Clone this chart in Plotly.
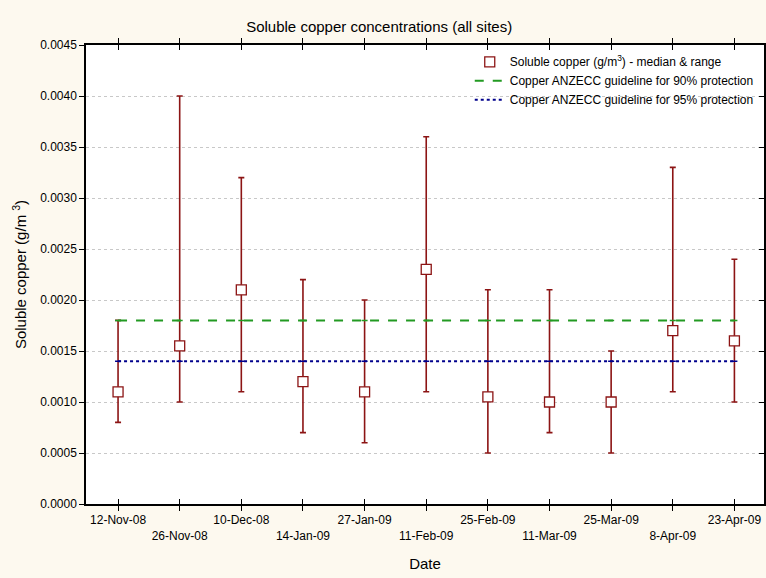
import plotly.graph_objects as go

dates = ["12-Nov-08", "26-Nov-08", "10-Dec-08", "14-Jan-09", "27-Jan-09", "11-Feb-09",
         "25-Feb-09", "11-Mar-09", "25-Mar-09", "8-Apr-09", "23-Apr-09"]
median = [0.0011, 0.00155, 0.0021, 0.0012, 0.0011, 0.0023, 0.00105, 0.0010, 0.0010, 0.0017, 0.0016]
vmin = [0.0008, 0.0010, 0.0011, 0.0007, 0.0006, 0.0011, 0.0005, 0.0007, 0.0005, 0.0011, 0.0010]
vmax = [0.0018, 0.0040, 0.0032, 0.0022, 0.0020, 0.0036, 0.0021, 0.0021, 0.0015, 0.0033, 0.0024]
guide90 = 0.0018
guide95 = 0.0014
ytickvals = [0.0, 0.0005, 0.0010, 0.0015, 0.0020, 0.0025, 0.0030, 0.0035, 0.0040, 0.0045]

xs = list(range(len(dates)))
ticktext = [d if i % 2 == 0 else "<br>" + d for i, d in enumerate(dates)]

RED = "#8c1414"
GREEN = "#229a22"
BLUE = "#00008c"
FONT = "Liberation Sans, Arial, sans-serif"

fig = go.Figure()

fig.add_trace(go.Scatter(
    x=xs, y=median, mode="markers",
    name="Soluble copper (g/m<sup>3</sup>) - median & range",
    marker=dict(symbol="square", size=10, color="white", line=dict(color=RED, width=1.3)),
    error_y=dict(type="data", symmetric=False,
                 array=[a - m for a, m in zip(vmax, median)],
                 arrayminus=[m - b for m, b in zip(median, vmin)],
                 color=RED, thickness=1.6, width=3),
))
fig.add_trace(go.Scatter(
    x=xs, y=[guide90] * len(xs), mode="lines",
    name="Copper ANZECC guideline for 90% protection",
    line=dict(color=GREEN, width=2, dash="dash"),
    error_y=dict(type="data", array=[0] * len(xs), color=GREEN, thickness=1.5, width=3),
))
fig.add_trace(go.Scatter(
    x=xs, y=[guide95] * len(xs), mode="lines",
    name="Copper ANZECC guideline for 95% protection",
    line=dict(color=BLUE, width=2, dash="dot"),
    error_y=dict(type="data", array=[0] * len(xs), color=BLUE, thickness=1.5, width=3),
))
# invisible trace for right-side inward ticks
fig.add_trace(go.Scatter(x=[0], y=[0], yaxis="y2", showlegend=False,
                         mode="markers", marker=dict(opacity=0), hoverinfo="skip"))

fig.update_layout(
    width=766, height=578,
    margin=dict(l=86, r=2, t=45, b=74, autoexpand=False),
    paper_bgcolor="#fdf9ef",
    plot_bgcolor="white",
    font=dict(family=FONT, size=12, color="black"),
    title=dict(text="Soluble copper concentrations (all sites)", x=0.495, xanchor="center",
               y=0.953, yanchor="middle", font=dict(size=15, family=FONT)),
    showlegend=True,
    legend=dict(x=0.566, xanchor="left", y=0.995, yanchor="top",
                bgcolor="rgba(0,0,0,0)", font=dict(size=12, family=FONT),
                tracegroupgap=0, itemwidth=30),
    xaxis=dict(
        range=[-0.52, 10.48], tickmode="array", tickvals=xs, ticktext=ticktext,
        ticks="inside", ticklen=5, tickcolor="black", showline=True, linecolor="black",
        linewidth=1.5, mirror="allticks", showgrid=False, zeroline=False,
        title=dict(text="Date", font=dict(size=15, family=FONT), standoff=17),
        tickfont=dict(size=12), tickangle=0, ticklabelstandoff=4,
    ),
    yaxis=dict(
        range=[0, 0.0045], tickmode="array", tickvals=ytickvals, tickformat=".4f",
        ticks="outside", ticklen=5, tickcolor="black", showline=True, linecolor="black",
        linewidth=1.5, mirror=True, showgrid=True, gridcolor="#c8c8c8", griddash="dot",
        gridwidth=1, zeroline=False, tickfont=dict(size=12),
        title=dict(text="Soluble copper (g/m <sup>3</sup>)", font=dict(size=15, family=FONT), standoff=10),
    ),
    yaxis2=dict(
        overlaying="y", side="right", matches="y", range=[0, 0.0045], tickmode="array",
        tickvals=ytickvals, ticks="inside", ticklen=5, tickcolor="black",
        showticklabels=False, showgrid=False, zeroline=False, showline=False,
    ),
)

fig.write_html("out.html")
